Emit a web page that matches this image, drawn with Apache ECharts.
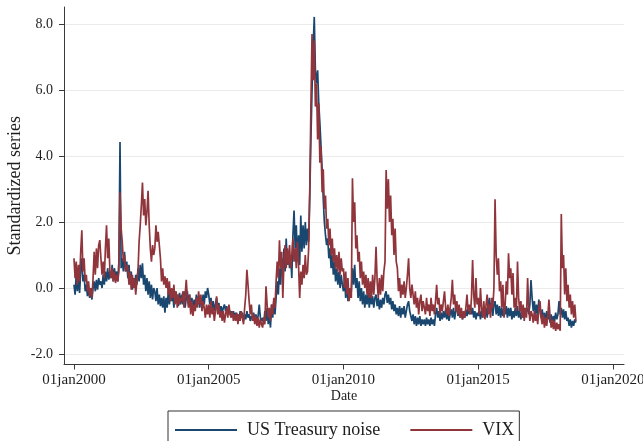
<!DOCTYPE html>
<html>
<head>
<meta charset="utf-8">
<script src="https://cdn.jsdelivr.net/npm/echarts@6/dist/echarts.min.js"></script>
<style>
html,body{margin:0;padding:0;background:#ffffff;}
#chart{width:643px;height:441px;}
</style>
</head>
<body>
<div id="chart"></div>
<script>
// ---------------- data ----------------
const firstYear = 2000;
const pointsPerYear = 24; // two readings per month (1st and 16th)
const seriesNames = ['US Treasury noise', 'VIX'];

// US Treasury noise, standardized, one row per year
const treasuryByYear = [
  [0.1,-0.2,0.4,-0.1,0.3,-0.15,0.5,0.9,0.2,0.4,-0.1,0.1,-0.25,0.0,-0.3,-0.1,-0.35,0.0,0.2,-0.1,0.25,-0.05,0.3,0.1],
  [0.2,0.0,0.4,0.1,0.5,0.2,0.6,0.25,0.5,0.3,0.7,0.2,0.6,0.3,0.5,0.2,0.8,4.43,0.6,0.9,0.5,1.1,0.5,0.8],
  [0.3,0.7,0.1,0.5,-0.05,0.3,0.0,0.4,0.1,0.6,0.2,0.7,0.3,0.75,0.1,0.4,-0.1,0.3,-0.2,0.2,-0.3,0.1,-0.35,0.0],
  [-0.1,-0.4,0.0,-0.5,-0.2,-0.55,-0.3,-0.6,-0.25,-0.75,-0.3,-0.6,-0.1,-0.5,-0.05,-0.4,-0.2,-0.6,-0.1,-0.45,-0.2,-0.55,-0.15,-0.5],
  [-0.2,-0.5,-0.1,-0.6,-0.3,-0.1,-0.5,-0.2,-0.6,-0.3,-0.7,-0.35,-0.6,-0.2,-0.5,-0.25,-0.6,-0.3,-0.45,-0.2,-0.5,-0.1,-0.3,0.0],
  [-0.2,-0.5,-0.3,-0.6,-0.4,-0.7,-0.5,-0.3,-0.6,-0.45,-0.7,-0.55,-0.75,-0.6,-0.5,-0.7,-0.55,-0.75,-0.6,-0.8,-0.7,-0.85,-0.7,-0.9],
  [-0.75,-0.95,-0.8,-1.0,-0.7,-0.9,-0.75,-1.0,-0.8,-0.95,-0.7,-0.9,-0.8,-1.0,-0.85,-0.95,-0.75,-1.0,-0.8,-0.95,-0.85,-0.5,-0.9,-1.0],
  [-0.9,-1.1,-0.7,-1.0,-0.6,-1.1,-0.8,-1.2,-0.5,-0.9,-0.4,-0.8,-0.3,0.2,-0.2,0.6,0.1,0.9,0.3,1.2,0.5,1.5,0.7,1.1],
  [0.6,1.0,0.3,1.6,2.35,1.2,1.9,0.8,1.6,0.7,2.2,1.1,1.9,1.2,2.0,1.3,1.8,1.4,2.8,4.5,6.0,7.3,8.22,6.6],
  [6.2,6.6,5.6,5.0,4.3,3.6,2.7,2.0,1.6,1.3,1.5,0.9,1.2,0.6,1.0,0.4,0.8,0.2,0.6,0.1,0.5,0.0,0.4,0.1],
  [-0.1,0.3,-0.3,0.1,-0.4,0.0,-0.3,-0.1,0.6,0.1,0.7,0.0,0.3,-0.3,0.2,-0.4,0.0,-0.5,-0.1,-0.6,-0.2,-0.5,-0.15,-0.6],
  [-0.2,-0.5,-0.25,-0.6,-0.3,-0.2,-0.55,-0.3,-0.65,-0.35,-0.6,-0.3,-0.5,-0.2,-0.1,-0.45,-0.2,-0.5,-0.3,-0.65,-0.4,-0.7,-0.5,-0.8],
  [-0.6,-0.85,-0.55,-0.9,-0.6,-0.8,-0.55,-0.9,-0.7,-0.5,-0.4,-0.7,-0.85,-1.0,-0.8,-1.1,-0.85,-1.15,-0.9,-1.1,-0.85,-1.15,-0.95,-1.1],
  [-0.95,-1.15,-0.9,-1.1,-0.95,-1.15,-0.9,-1.1,-0.95,-1.15,-0.8,-0.6,-0.9,-0.7,-1.0,-0.75,-0.95,-0.7,-0.9,-0.65,-0.95,-0.75,-1.0,-0.8],
  [-0.65,-0.9,-0.6,-0.95,-0.7,-0.5,-0.85,-0.6,-0.9,-0.7,-0.95,-0.75,-0.9,-0.65,-0.85,-0.6,-0.8,-0.55,-0.8,-0.6,-0.9,-0.7,-0.95,-0.75],
  [-0.85,-0.65,-0.95,-0.7,-0.9,-0.6,-0.85,-0.6,-0.9,-0.5,-0.3,-0.7,-0.45,-0.85,-0.5,-0.4,-0.8,-0.5,-0.85,-0.55,-0.9,-0.6,-0.85,-0.6],
  [-0.8,-0.55,-0.9,-0.6,-0.85,-0.6,-0.95,-0.7,-0.9,-0.6,-0.85,-0.55,-0.9,-0.7,-0.95,-0.75,-0.9,-0.6,-0.85,-0.7,-0.6,-0.8,-0.5,0.24],
  [-0.3,-0.7,-0.4,-0.8,-0.5,-0.85,-0.35,-0.7,-0.9,-0.65,-1.0,-0.75,-1.05,-0.7,-0.95,-0.75,-1.05,-0.8,-1.1,-0.85,-1.0,-0.75,-0.95,-0.8],
  [-0.4,-0.8,-0.6,-0.9,-0.65,-0.95,-0.7,-1.0,-0.9,-1.15,-0.95,-1.2,-1.0,-1.15,-0.95,-1.05]
];

// VIX, standardized, one row per year
const vixByYear = [
  [0.9,0.3,0.8,0.1,0.7,0.2,1.1,1.75,0.5,0.9,0.2,0.4,-0.1,0.2,-0.25,0.0,-0.3,0.3,1.1,0.4,1.2,0.6,1.3,1.45],
  [0.9,0.4,0.8,0.3,1.2,1.9,0.9,1.5,0.5,0.3,0.6,0.2,0.5,0.15,0.4,0.2,0.5,2.9,1.8,1.4,0.8,1.0,0.5,0.7],
  [0.6,0.1,0.5,-0.05,0.4,0.0,0.3,-0.2,0.2,0.5,1.4,1.9,2.5,3.2,2.2,2.7,1.9,2.3,2.95,1.9,1.2,0.8,1.3,1.0],
  [1.2,1.9,1.4,1.7,1.3,0.9,0.2,0.6,0.1,0.35,0.0,0.3,-0.2,0.2,-0.4,0.0,-0.3,0.1,-0.5,-0.1,-0.6,-0.2,-0.5,-0.3],
  [-0.4,-0.1,-0.6,-0.2,0.25,-0.3,-0.6,-0.2,-0.8,-0.4,-0.85,-0.5,-0.7,-0.3,-0.6,-0.1,-0.5,-0.2,-0.7,-0.4,-0.6,-0.9,-0.5,-0.8],
  [-0.5,-0.9,-0.4,-0.8,-0.6,-1.0,-0.7,-0.25,-0.8,-0.5,-0.9,-0.7,-1.0,-0.7,-1.05,-0.8,-0.6,-0.9,-0.5,-0.8,-0.9,-0.7,-1.0,-0.8],
  [-1.0,-0.75,-1.1,-0.8,-1.0,-0.7,-0.9,-1.1,-0.6,-0.2,0.55,0.1,-0.4,-0.8,-0.5,-1.0,-0.8,-1.1,-0.85,-1.15,-0.9,-1.2,-0.95,-1.1],
  [-1.2,-0.9,-1.1,0.05,-0.5,-0.9,-0.6,-1.0,-0.5,-0.8,-0.3,-0.6,0.2,0.8,0.3,1.45,0.6,1.1,-0.3,0.8,1.3,0.6,1.2,0.7],
  [1.3,0.6,1.0,1.5,0.8,1.2,0.6,1.4,0.7,-0.3,0.5,0.1,0.7,0.3,1.0,0.4,0.5,1.2,3.0,5.5,7.7,6.3,7.5,5.5],
  [6.2,4.5,5.6,3.8,4.3,2.9,3.6,2.4,2.8,1.8,2.1,1.3,1.8,1.0,1.5,0.8,1.2,0.6,1.0,0.5,1.1,0.4,0.9,0.5],
  [0.6,0.0,0.5,-0.2,0.3,-0.4,0.0,-0.3,3.33,2.0,2.6,1.2,1.6,0.8,1.1,0.3,0.8,0.1,0.5,0.0,0.4,-0.2,0.3,-0.3],
  [0.2,-0.3,0.4,-0.2,0.3,1.25,0.2,-0.3,0.3,-0.2,0.4,-0.1,0.5,0.8,3.58,2.4,3.3,2.0,2.8,1.6,2.1,1.0,1.8,0.8],
  [0.6,-0.1,0.3,-0.3,0.1,-0.2,0.2,-0.3,0.0,0.4,0.9,0.0,-0.3,0.1,-0.2,-0.5,-0.1,-0.6,-0.3,-0.8,-0.4,-0.2,-0.7,-0.4],
  [-0.4,-0.8,-0.3,-0.7,-0.5,-0.85,-0.3,-0.7,-0.5,-0.8,-0.4,0.1,-0.5,-0.3,-0.8,-0.5,-0.7,-0.4,-0.1,-0.6,-0.8,-0.5,-0.85,-0.6],
  [-0.3,0.25,-0.5,-0.2,-0.7,-0.4,-0.8,-0.5,-0.9,-0.6,-0.95,-0.7,-0.9,-0.6,-0.2,-0.7,-0.5,-0.8,-0.3,0.85,-0.2,-0.6,0.3,-0.5],
  [-0.3,-0.8,0.0,-0.6,-0.9,-0.4,-0.95,-0.5,-0.2,-0.8,-0.5,-0.9,-0.3,-0.6,0.0,2.69,1.0,0.4,0.9,-0.1,0.2,-0.6,0.1,-0.9],
  [-0.5,0.2,-0.2,1.05,0.3,0.6,-0.2,0.45,-0.6,-0.3,-0.7,0.8,-0.3,-0.7,-0.4,-0.9,-0.5,-1.0,-0.6,-0.9,0.3,-0.6,-1.0,-0.7],
  [-0.8,-1.05,-0.7,-1.0,-0.8,-1.1,-0.6,-0.4,-0.9,-1.1,-0.8,-1.2,-0.9,-1.15,-0.85,-0.35,-0.9,-1.2,-0.95,-1.25,-1.0,-1.3,-1.05,-1.25],
  [-1.1,-1.3,2.24,0.6,1.0,-0.2,0.6,-0.4,0.1,-0.6,-0.2,-0.8,-0.4,-0.9,-0.5,-1.0]
];

const xTickYears = [2000, 2005, 2010, 2015, 2020];
const yTickValues = [-2, 0, 2, 4, 6, 8];

// ---------------- chart ----------------
function toPairs(byYear) {
  const out = [];
  byYear.forEach(function (vals, yi) {
    vals.forEach(function (v, k) {
      out.push([firstYear + yi + k / pointsPerYear, v]);
    });
  });
  return out;
}

const font = '"Liberation Serif", "Times New Roman", serif';
const navy = '#1a476f';
const maroon = '#90353b';
const axisColor = '#3a3a3a';
const textColor = '#1e1e1e';

const chart = echarts.init(document.getElementById('chart'), null, { renderer: 'canvas' });
chart.setOption({
  animation: false,
  backgroundColor: '#ffffff',
  textStyle: { fontFamily: font },
  grid: { left: 64, right: 19, top: 7, bottom: 76.5, containLabel: false, outerBoundsMode: 'none' },
  xAxis: {
    type: 'value',
    min: 1999.63,
    max: 2020.41,
    axisLine: { show: true, onZero: false, lineStyle: { color: axisColor, width: 1 } },
    axisTick: { show: true, length: 5, customValues: xTickYears, lineStyle: { color: axisColor } },
    axisLabel: {
      customValues: xTickYears,
      formatter: function (v) { return '01jan' + Math.round(v); },
      color: textColor, fontFamily: font, fontSize: 15, margin: 8
    },
    splitLine: { show: false },
    name: 'Date',
    nameLocation: 'middle',
    nameGap: 25,
    nameMoveOverlap: false,
    nameTextStyle: { color: textColor, fontFamily: font, fontSize: 14 }
  },
  yAxis: {
    type: 'value',
    min: -2.32,
    max: 8.52,
    axisLine: { show: true, onZero: false, lineStyle: { color: axisColor, width: 1 } },
    axisTick: { show: true, length: 5, customValues: yTickValues, lineStyle: { color: axisColor } },
    axisLabel: {
      customValues: yTickValues,
      formatter: function (v) { return v.toFixed(1); },
      color: textColor, fontFamily: font, fontSize: 14, margin: 11
    },
    splitLine: { show: true, lineStyle: { color: '#ebebeb', width: 1 } },
    name: 'Standardized series',
    nameLocation: 'middle',
    nameGap: 40,
    nameMoveOverlap: false,
    nameTextStyle: { color: textColor, fontFamily: font, fontSize: 18 }
  },
  legend: {
    data: seriesNames,
    left: 168,
    top: 411,
    orient: 'horizontal',
    icon: 'rect',
    itemWidth: 62,
    itemHeight: 2,
    itemGap: 30,
    padding: [10, 5, 10, 7],
    borderColor: '#333333',
    borderWidth: 1,
    textStyle: { color: textColor, fontFamily: font, fontSize: 18, padding: [0, 0, 0, 5] }
  },
  series: [
    {
      name: seriesNames[0],
      type: 'line',
      data: toPairs(treasuryByYear),
      symbol: 'none',
      showSymbol: false,
      sampling: null,
      lineStyle: { color: navy, width: 1.7 },
      itemStyle: { color: navy },
      emphasis: { disabled: true },
      z: 2
    },
    {
      name: seriesNames[1],
      type: 'line',
      data: toPairs(vixByYear),
      symbol: 'none',
      showSymbol: false,
      sampling: null,
      lineStyle: { color: maroon, width: 1.7 },
      itemStyle: { color: maroon },
      emphasis: { disabled: true },
      z: 3
    }
  ]
});
</script>
</body>
</html>
